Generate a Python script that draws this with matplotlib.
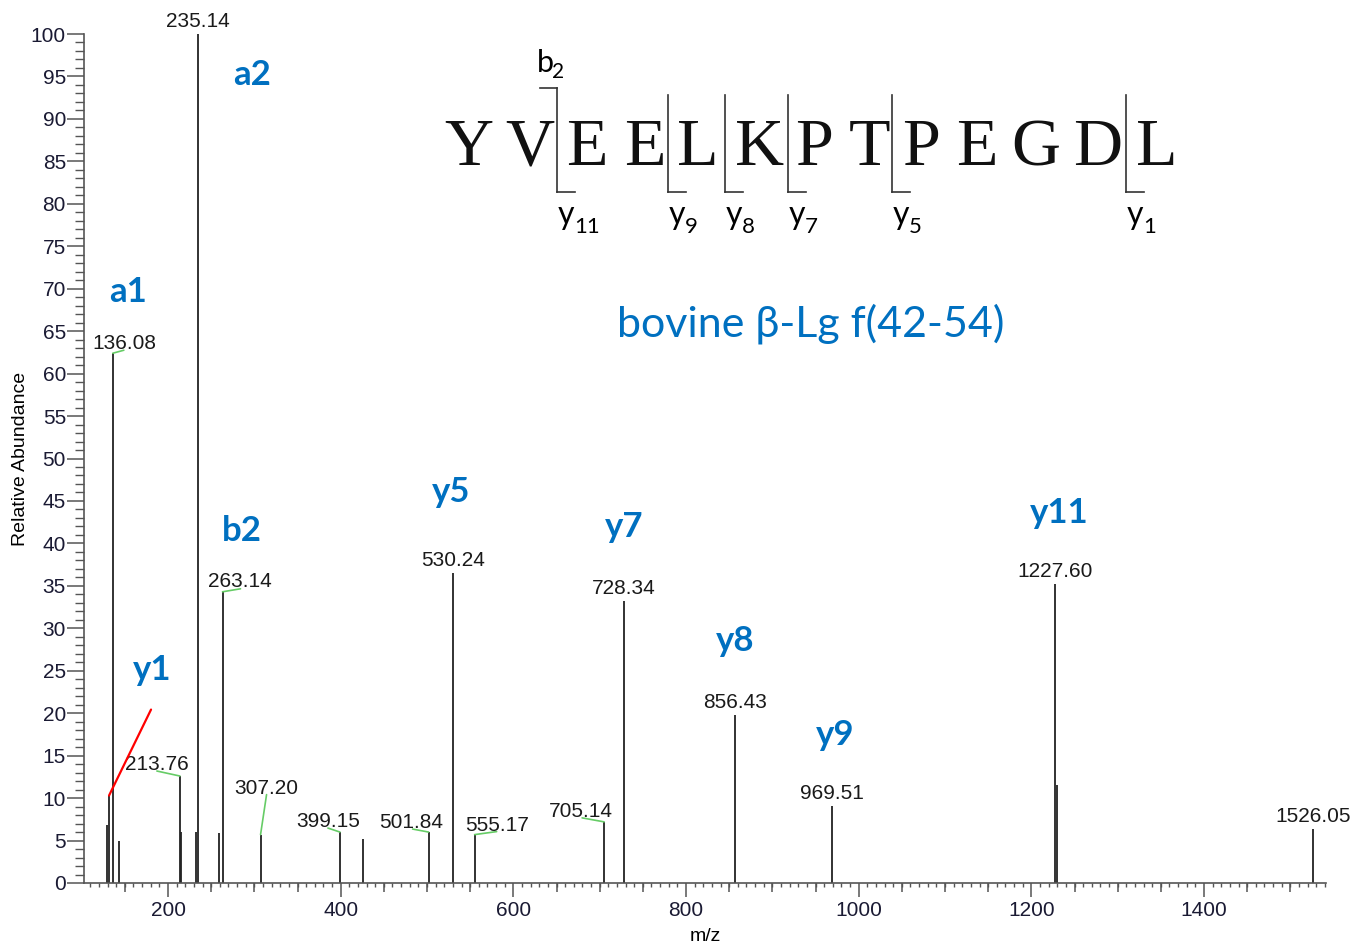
import numpy as np
import matplotlib.pyplot as plt
from matplotlib.lines import Line2D
from matplotlib.ticker import MultipleLocator

plt.rcParams['font.family'] = ['Liberation Sans', 'DejaVu Sans']

# peaks: m/z and relative abundance
mz = [129.0, 131.7, 136.08, 143.6, 213.76, 215.0, 232.4, 235.14, 258.7, 263.14,
      307.20, 399.15, 426.2, 501.84, 530.24, 555.17, 705.14, 728.34, 856.43,
      969.51, 1227.60, 1229.3, 1526.05]
inten = [6.8, 10.3, 62.4, 4.9, 12.6, 6.0, 6.0, 100, 5.9, 34.3,
         5.7, 6.0, 5.2, 6.0, 36.5, 5.7, 7.2, 33.2, 19.8,
         9.1, 35.2, 11.5, 6.4]

# labelled peaks
lab_mz = [136.08, 213.76, 235.14, 263.14, 307.20, 399.15, 501.84, 530.24,
          555.17, 705.14, 728.34, 856.43, 969.51, 1227.60, 1526.05]

seq = "YVEELKPTPEGDL"
ion_names = ['a1', 'a2', 'y1', 'b2', 'y5', 'y7', 'y8', 'y9', 'y11']
frag_names = ['11', '9', '8', '7', '5', '1']

W, H = 1356, 948
def fx(x):
    return x / W
def fy(y):
    return 1 - y / H

fig = plt.figure(figsize=(13.56, 9.48), dpi=100)
ax = fig.add_axes([fx(84), fy(883), (1326 - 84) / W, (883 - 34) / H])

ax.vlines(mz, 0, inten, color='#222222', lw=1.3)
ax.set_xlim(102.7, 1541.3)
ax.set_ylim(0, 100)

for s in ['top', 'right']:
    ax.spines[s].set_visible(False)
for s in ['left', 'bottom']:
    ax.spines[s].set_color('#555555')
    ax.spines[s].set_linewidth(1.2)

ax.xaxis.set_major_locator(MultipleLocator(200))
ax.xaxis.set_minor_locator(MultipleLocator(10))
ax.yaxis.set_major_locator(MultipleLocator(5))
ax.yaxis.set_minor_locator(MultipleLocator(1))
ax.tick_params(axis='x', which='major', length=10, width=1.1, color='#555555',
               labelsize=15, pad=3, labelcolor='#1a1a33')
ax.tick_params(axis='x', which='minor', length=3.2, width=1.0, color='#555555')
ax.tick_params(axis='y', which='major', length=12, width=1.1, color='#555555',
               labelsize=15, pad=1, labelcolor='#1a1a33')
ax.tick_params(axis='y', which='minor', length=6.5, width=1.0, color='#555555')

# medium ticks every 50
med = [v for v in np.arange(150, 1541, 50) if v % 200 != 0]
ax.vlines(med, 0, -9 / 849, transform=ax.get_xaxis_transform(), color='#555555',
          lw=1.1, clip_on=False)

ax.set_xlabel('m/z', fontsize=14, labelpad=6)
ax.set_ylabel('Relative Abundance', fontsize=14, labelpad=1)

# label offsets in pixels (dx, dy), leader end (lx, ly) or None
offs = {136.08: (12, 4, (11, 3)), 213.76: (-23, 6, (-23, 5)),
        263.14: (17, 5, (18, 3)), 307.20: (6, 41, (6, 40)),
        399.15: (-12, 5, (-12, 4)), 501.84: (-17, 4, (-16, 3)),
        555.17: (22, 4, (22, 3)), 705.14: (-23, 5, (-22, 4))}
for m in lab_mz:
    h = inten[mz.index(m)]
    dx, dy, lead = offs.get(m, (0, 7, None))
    ax.annotate(f'{m:.2f}', xy=(m, h), xytext=(dx, dy), textcoords='offset pixels',
                ha='center', va='baseline', fontsize=15, color='#1a1a1a',
                annotation_clip=False)
    if lead is not None:
        ax.annotate('', xy=(m, h), xytext=lead, textcoords='offset pixels',
                    arrowprops=dict(arrowstyle='-', color='#66cc66', lw=1.2,
                                    shrinkA=0, shrinkB=0))

# red pointer to y1
ax.annotate('', xy=(mz[1], inten[1]), xytext=(42, 86), textcoords='offset pixels',
            arrowprops=dict(arrowstyle='-', color='red', lw=1.6, shrinkA=0, shrinkB=0))

# blue ion labels
ion_pos = [(128, 302), (252, 85), (152, 680), (242, 541), (451, 502),
           (624, 537), (735, 651), (835, 745), (1059, 523)]
for name, (x, y) in zip(ion_names, ion_pos):
    fig.text(fx(x), fy(y), name, ha='center', va='baseline', fontsize=25,
             fontweight='bold', color='#0070C0', family='Lato')

fig.text(fx(617), fy(337), 'bovine β-Lg f(42-54)', ha='left', va='baseline',
         fontsize=31, color='#0070C0', family='Lato')

# peptide sequence
seq_x = [469, 530, 587, 645, 698, 760, 814, 870, 921, 977, 1036, 1098, 1157]
for ch, x in zip(seq, seq_x):
    fig.text(fx(x), fy(165), ch, ha='center', va='baseline', fontsize=49,
             family='Liberation Serif', color='#111111')

def seg(x0, y0, x1, y1):
    fig.add_artist(Line2D([fx(x0), fx(x1)], [fy(y0), fy(y1)], color='#333333', lw=1.2))

# b2 bracket
seg(540, 88, 557, 88)
seg(557, 88, 557, 192)
seg(557, 192, 575, 192)
fig.text(fx(537), fy(72), 'b', ha='left', va='baseline', fontsize=22, family='Lato')
fig.text(fx(552), fy(78), '2', ha='left', va='baseline', fontsize=15, family='Lato')

# y brackets
br_x = [557, 668, 725, 788, 892, 1126]
for x, sub in zip(br_x, frag_names):
    if x != 557:
        seg(x, 95, x, 192)
        seg(x, 192, x + 18, 192)
    fig.text(fx(x + 1), fy(224), 'y', ha='left', va='baseline', fontsize=23, family='Lato')
    fig.text(fx(x + 17), fy(233), sub, ha='left', va='baseline', fontsize=16, family='Lato')

fig.savefig('out.png', dpi=100)
